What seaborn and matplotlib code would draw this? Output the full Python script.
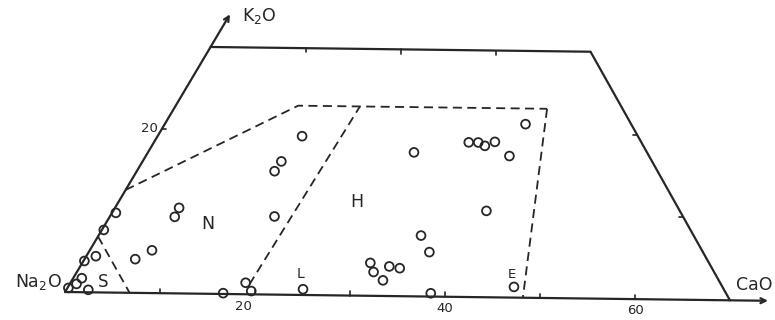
import numpy as np
import pandas as pd
import matplotlib
matplotlib.use("Agg")
import matplotlib.pyplot as plt
import seaborn as sns

# ---- data (compositions: CaO along base, K2O along the inclined axis) ----
cao = [0.4, 0.2, 1.0, 0.1, 0.9, 0.7, 0.1, 2.3, 5.3, 6.5, 6.7, 6.8,
       15.1, 14.5, 14.4, 17.2, 16.6, 18.3, 19.4, 24.7,
       33.7, 35.6, 30.1, 31.0, 32.3, 33.5, 32.5, 38.3,
       37.7, 32.9, 33.9, 34.8, 35.6, 27.8, 38.0, 39.0, 46.6]
k2o = [9.7, 7.6, 4.4, 3.8, 1.7, 1.0, 0.5, 0.3, 4.1, 5.2, 10.4, 9.3,
       19.3, 16.2, 15.0, 9.5, 0.1, 1.4, 0.4, 0.7,
       7.4, 5.4, 4.0, 2.9, 3.6, 3.4, 1.9, 0.4,
       21.1, 18.8, 18.8, 18.4, 18.9, 17.5, 17.2, 10.5, 1.3]

# outer frame (top edge and right edge)
frame_cao = [0, 40, 70]
frame_k2o = [30, 30, 0]
# dashed field boundaries
n_top_cao = [0, 12.8, 39.0]
n_top_k2o = [12.5, 23.0, 23.0]
nh_cao = [18.8, 19.3]
nh_k2o = [1.2, 23.0]
h_right_cao = [39.0, 48.2]
h_right_k2o = [23.0, 0.0]
s_cao = [0.0, 6.8]
s_k2o = [6.8, 0.0]

base_ticks = [10, 20, 30, 40, 50, 60]
top_ticks = [10, 20, 30]
right_ticks_k2o = [10, 20]
k2o_axis_ticks = [20]

field_labels = ["S", "N", "H", "L", "E"]

# ---- geometry ----
TILT = 0.0125  # slight rotation of the scanned sheet
S3 = np.sqrt(3) / 2


def to_xy(c, k):
    c = np.asarray(c, float)
    k = np.asarray(k, float)
    x = c + 0.5 * k
    y = S3 * k
    xr = x * np.cos(TILT) + y * np.sin(TILT)
    yr = -x * np.sin(TILT) + y * np.cos(TILT)
    return xr, yr


def px(xp, yp):
    return (xp - 65) / 9.5, (292 - yp) / 9.5


sns.set_theme(style="white")
plt.rcParams["font.family"] = ["DejaVu Sans"]
INK = "#262626"

fig = plt.figure(figsize=(7.75, 3.2), dpi=100)
ax = fig.add_axes([0, 0, 1, 1])
ax.set_xlim(-65 / 9.5, 710 / 9.5)
ax.set_ylim(-28 / 9.5, 292 / 9.5)
ax.set_axis_off()

# points
x, y = to_xy(cao, k2o)
df = pd.DataFrame({"x": x, "y": y})
sns.scatterplot(data=df, x="x", y="y", ax=ax, s=40, marker="o",
                facecolor="none", edgecolor=INK, linewidth=1.3, zorder=5,
                legend=False)

# frame
fx, fy = to_xy(frame_cao, frame_k2o)
ax.plot(fx, fy, color=INK, lw=1.6, solid_joinstyle="miter")

# axes with arrows
ox, oy = to_xy(0, 0)
ex, ey = to_xy(74, 0)
ax.annotate("", xy=(ex, ey), xytext=(ox, oy),
            arrowprops=dict(arrowstyle="->", lw=1.6, color=INK,
                            mutation_scale=9, shrinkA=0, shrinkB=0))
kx, ky = to_xy(0, 34)
ax.annotate("", xy=(kx, ky), xytext=(ox, oy),
            arrowprops=dict(arrowstyle="->", lw=1.6, color=INK,
                            mutation_scale=9, shrinkA=0, shrinkB=0))

# dashed boundaries
for cc, kk in [(n_top_cao, n_top_k2o), (nh_cao, nh_k2o),
               (h_right_cao, h_right_k2o), (s_cao, s_k2o)]:
    bx, by = to_xy(cc, kk)
    ax.plot(bx, by, color=INK, lw=1.3, linestyle=(0, (5, 3)))

# ticks
tl = 0.45
for t in base_ticks:
    tx, ty = to_xy(t, 0)
    ax.plot([tx, tx], [ty, ty + tl], color=INK, lw=1.2)
for t in top_ticks:
    tx, ty = to_xy(t, 30)
    ax.plot([tx, tx], [ty, ty - tl], color=INK, lw=1.2)
for t in right_ticks_k2o:
    tx, ty = to_xy(70 - t, t)
    ax.plot([tx, tx - tl], [ty, ty], color=INK, lw=1.2)
for t in k2o_axis_ticks:
    tx, ty = to_xy(0, t)
    ax.plot([tx, tx + tl], [ty, ty], color=INK, lw=1.2)

# tick labels
for lab, (xp, yp) in [("20", (243, 306)), ("40", (445, 309)), ("60", (635, 311))]:
    ax.text(*px(xp, yp), lab, ha="center", va="center", fontsize=9.5, color=INK)
ax.text(*px(158, 128), "20", ha="right", va="center", fontsize=9.5, color=INK)

# axis names
ax.text(*px(242, 16), r"$\mathregular{K_2O}$", ha="left", va="center",
        fontsize=12.5, color=INK)
ax.text(*px(62, 282), r"$\mathregular{Na_2O}$", ha="right", va="center",
        fontsize=12.5, color=INK)
ax.text(*px(736, 285), "CaO", ha="left", va="center", fontsize=12.5, color=INK)

# field labels
label_pos = [(103, 282), (208, 224), (357, 202), (300, 274), (512, 275)]
label_size = [12, 12.5, 12.5, 10, 9.5]
for lab, (xp, yp), fs in zip(field_labels, label_pos, label_size):
    ax.text(*px(xp, yp), lab, ha="center", va="center", fontsize=fs, color=INK)

fig.savefig("out.png", dpi=100, facecolor="white")
